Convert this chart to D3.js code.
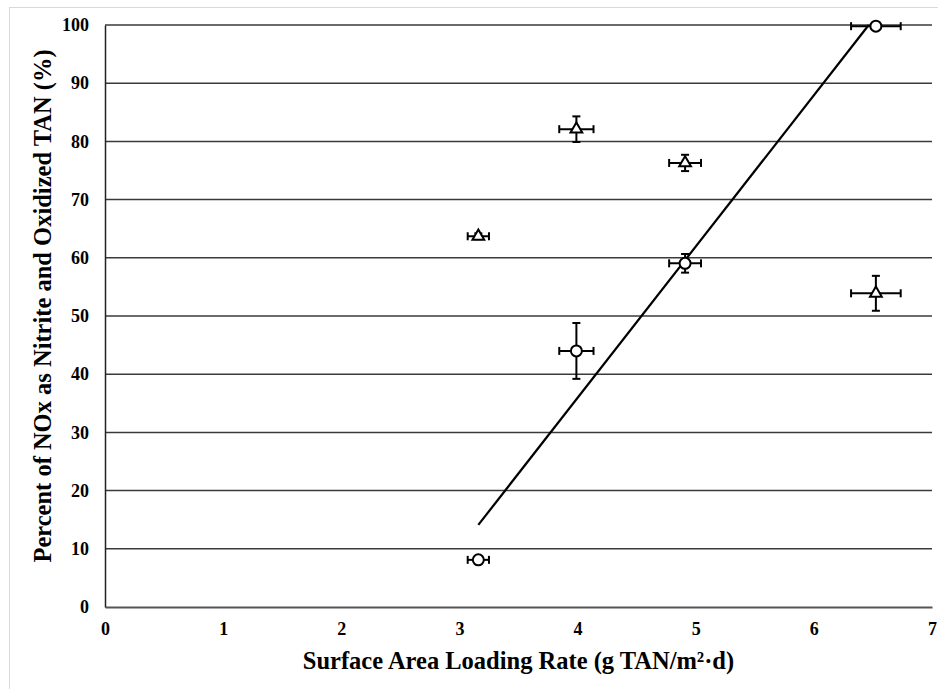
<!DOCTYPE html>
<html>
<head>
<meta charset="utf-8">
<script src="https://cdn.jsdelivr.net/npm/d3@7"></script>
<style>
  body { margin: 0; background: #fff; }
  svg text { font-family: "Liberation Serif", "Times New Roman", serif; font-weight: bold; fill: #000; }
</style>
</head>
<body>
<div id="chart"></div>
<script>
// loading rate (g TAN/m2.d) for each run
let loadRate = [3.16, 3.99, 4.91, 6.525]
let loadErr = [0.09, 0.145, 0.135, 0.21]

// open circles: percent nitrite in NOx
let nitritePct = [8.1, 44.0, 59.05, 99.8]
let nitriteErr = [0.6, 4.8, 1.6, 0.3]

// open triangles: percent oxidized TAN
let oxidizedPct = [63.7, 82.1, 76.3, 53.9]
let oxidizedErr = [0.5, 2.2, 1.4, 3.0]

let xTicks = [0, 1, 2, 3, 4, 5, 6, 7]
let yTicks = [0, 10, 20, 30, 40, 50, 60, 70, 80, 90, 100]

let width = 938, height = 689
let margin = { left: 105, right: 6, top: 25, bottom: 82 }

let svg = d3.select('#chart')
  .append('svg')
  .attr('width', width)
  .attr('height', height)

// light frame around chart area
svg.append('rect')
  .attr('x', 9.5).attr('y', 7.5)
  .attr('width', width + 20).attr('height', height + 20)
  .attr('fill', 'none')
  .attr('stroke', '#d9d9d9')
  .attr('stroke-width', 1)

let x = d3.scaleLinear().domain([0, 7]).range([margin.left, width - margin.right])
let y = d3.scaleLinear().domain([0, 100]).range([height - margin.bottom, margin.top])

// horizontal gridlines
svg.append('g')
  .selectAll('line')
  .data(yTicks.filter(d => d > 0))
  .enter()
  .append('line')
  .attr('x1', x(0)).attr('x2', x(7))
  .attr('y1', d => y(d)).attr('y2', d => y(d))
  .attr('stroke', '#3a3a3a')
  .attr('stroke-width', 1.5)

// axes
let xAxis = svg.append('g')
  .attr('transform', `translate(0, ${y(0)})`)
  .call(d3.axisBottom(x).tickValues(xTicks).tickSize(0).tickPadding(15).tickFormat(d3.format('d')))
xAxis.select('.domain').attr('stroke', '#555').attr('stroke-width', 2)
xAxis.selectAll('text').style('font-size', '18px')

let yAxis = svg.append('g')
  .attr('transform', `translate(${x(0)}, 0)`)
  .call(d3.axisLeft(y).tickValues(yTicks).tickSize(0).tickPadding(16).tickFormat(d3.format('d')))
yAxis.select('.domain').attr('stroke', '#222').attr('stroke-width', 1.5)
yAxis.selectAll('text').style('font-size', '18px')

// axis titles
svg.append('text')
  .attr('x', (x(0) + x(7)) / 2)
  .attr('y', 669)
  .attr('text-anchor', 'middle')
  .style('font-size', '24.5px')
  .text('Surface Area Loading Rate (g TAN/m²·d)')

svg.append('text')
  .attr('transform', `translate(51, 306) rotate(-90)`)
  .attr('text-anchor', 'middle')
  .style('font-size', '24.5px')
  .text('Percent of NOx as Nitrite and Oxidized TAN (%)')

// linear fit through the nitrite points, clipped at the top of the plot
let mx = d3.mean(loadRate), my = d3.mean(nitritePct)
let sxy = d3.sum(loadRate, (v, i) => (v - mx) * (nitritePct[i] - my))
let sxx = d3.sum(loadRate, v => (v - mx) * (v - mx))
let slope = sxy / sxx, icpt = my - slope * mx
let x0 = d3.min(loadRate)
let x1 = Math.min(d3.max(loadRate), (100 - icpt) / slope)
svg.append('line')
  .attr('x1', x(x0)).attr('y1', y(slope * x0 + icpt))
  .attr('x2', x(x1)).attr('y2', y(slope * x1 + icpt))
  .attr('stroke', '#000')
  .attr('stroke-width', 2.2)

let drawSeries = (vals, errs, shape) => {
  let g = svg.append('g')
  let pts = loadRate.map((lr, i) => ({ lr, le: loadErr[i], v: vals[i], e: errs[i] }))
  let cap = 4
  pts.forEach(p => {
    let px = x(p.lr), py = y(p.v)
    let xl = x(p.lr - p.le), xr = x(p.lr + p.le)
    let yt = y(p.v + p.e), yb = y(p.v - p.e)
    let eb = g.append('g').attr('stroke', '#000').attr('stroke-width', 2)
    eb.append('line').attr('x1', xl).attr('x2', xr).attr('y1', py).attr('y2', py)
    eb.append('line').attr('x1', xl).attr('x2', xl).attr('y1', py - cap).attr('y2', py + cap)
    eb.append('line').attr('x1', xr).attr('x2', xr).attr('y1', py - cap).attr('y2', py + cap)
    eb.append('line').attr('x1', px).attr('x2', px).attr('y1', yt).attr('y2', yb)
    eb.append('line').attr('x1', px - cap).attr('x2', px + cap).attr('y1', yt).attr('y2', yt)
    eb.append('line').attr('x1', px - cap).attr('x2', px + cap).attr('y1', yb).attr('y2', yb)
    if (shape === 'circle') {
      g.append('circle')
        .attr('cx', px).attr('cy', py).attr('r', 5.5)
        .attr('fill', '#fff').attr('stroke', '#000').attr('stroke-width', 2)
    } else {
      g.append('path')
        .attr('transform', `translate(${px}, ${py})`)
        .attr('d', d3.symbol().type(d3.symbolTriangle).size(60))
        .attr('fill', '#fff').attr('stroke', '#000').attr('stroke-width', 2)
    }
  })
}

drawSeries(oxidizedPct, oxidizedErr, 'triangle')
drawSeries(nitritePct, nitriteErr, 'circle')
</script>
</body>
</html>
